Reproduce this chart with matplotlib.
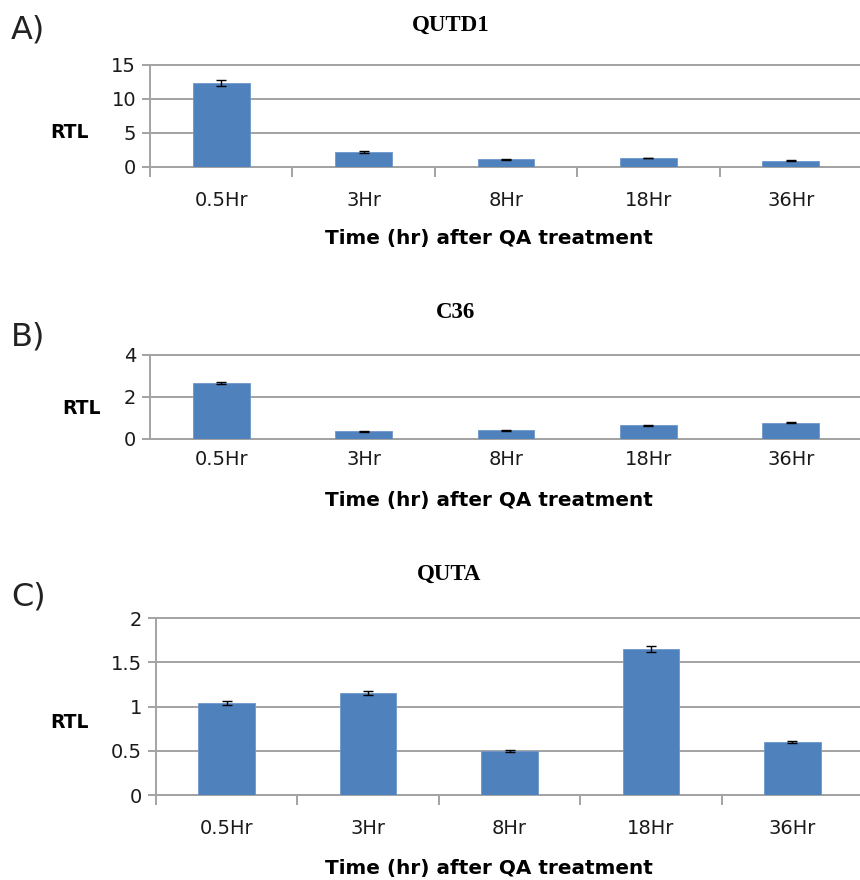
import matplotlib
matplotlib.use("Agg")
import matplotlib.pyplot as plt
from matplotlib.ticker import FuncFormatter

# Relative transcript levels after QA treatment
timepoints = ["0.5Hr", "3Hr", "8Hr", "18Hr", "36Hr"]

qutd1_vals = [12.35, 2.2, 1.13, 1.32, 0.93]
qutd1_err = [0.45, 0.08, 0.07, 0.07, 0.07]

c36_vals = [2.65, 0.36, 0.42, 0.66, 0.77]
c36_err = [0.05, 0.03, 0.03, 0.03, 0.03]

quta_vals = [1.04, 1.155, 0.497, 1.65, 0.597]
quta_err = [0.02, 0.02, 0.01, 0.03, 0.01]

yticks_a = [0, 5, 10, 15]
yticks_b = [0, 2, 4]
yticks_c = [0, 0.5, 1, 1.5, 2]

BAR = "#4F81BD"
GRID = "#a3a3a3"
W, H = 860, 880

fig = plt.figure(figsize=(W / 100, H / 100), dpi=100)


def px_axes(left, top, right, bottom):
    return fig.add_axes([left / W, 1 - bottom / H, (right - left) / W, (bottom - top) / H])


def draw_panel(ax, vals, errs, yticks, xticks_on, xlabel_pad):
    x = list(range(len(timepoints)))
    ax.bar(x, vals, width=0.4, color=BAR, edgecolor="#6f96cc", linewidth=0.6, zorder=3)
    ax.errorbar(x, vals, yerr=errs, fmt="none", ecolor="black", elinewidth=1.0,
                capsize=3.5, capthick=1.0, zorder=4)
    ax.set_xlim(-0.5, len(timepoints) - 0.5)
    ax.set_ylim(yticks[0], yticks[-1])
    ax.set_yticks(yticks)
    ax.yaxis.set_major_formatter(FuncFormatter(lambda v, p: f"{v:g}"))
    ax.set_xticks(x)
    ax.set_xticklabels(timepoints)
    ax.grid(axis="y", color=GRID, linewidth=1.4, zorder=0)
    for gl in ax.get_ygridlines():
        gl.set_clip_on(False)
    ax.set_axisbelow(True)
    for s in ["top", "right"]:
        ax.spines[s].set_visible(False)
    for s in ["left", "bottom"]:
        ax.spines[s].set_color(GRID)
        ax.spines[s].set_linewidth(1.4)
    ax.tick_params(axis="y", length=6, width=1.4, color=GRID, pad=4,
                   labelsize=14, labelcolor="#1a1a1a")
    ax.tick_params(axis="x", length=0, pad=xlabel_pad, labelsize=14, labelcolor="#1a1a1a")
    if xticks_on:
        # category boundary ticks below the axis
        ax.set_xticks([i - 0.5 for i in range(len(timepoints) + 1)], minor=True)
        ax.tick_params(axis="x", which="minor", length=7, width=1.4, color=GRID,
                       direction="out")


axA = px_axes(150, 65, 862, 167)
draw_panel(axA, qutd1_vals, qutd1_err, yticks_a, True, 17)

axB = px_axes(150, 355, 862, 439)
draw_panel(axB, c36_vals, c36_err, yticks_b, False, 8)

axC = px_axes(156, 618, 863, 795)
draw_panel(axC, quta_vals, quta_err, yticks_c, True, 17)

serif = dict(family=["Liberation Serif", "DejaVu Serif"], fontweight="bold", fontsize=16.5)
fig.text(451 / W, 1 - 25 / H, "QUTD1", ha="center", va="center", **serif)
fig.text(456 / W, 1 - 312 / H, "C36", ha="center", va="center", **serif)
fig.text(449 / W, 1 - 574 / H, "QUTA", ha="center", va="center", **serif)

for lbl, y in [("A)", 30), ("B)", 337), ("C)", 597)]:
    fig.text(11 / W, 1 - y / H, lbl, ha="left", va="center", fontsize=23, color="#222222")

for x, y in [(70, 133), (81, 408), (70, 722)]:
    fig.text(x / W, 1 - y / H, "RTL", ha="center", va="center", fontsize=13.5,
             fontweight="bold")

for y in [238, 500, 868]:
    fig.text(489 / W, 1 - y / H, "Time (hr) after QA treatment", ha="center",
             va="center", fontsize=14.4, fontweight="bold")

fig.savefig("out.png", dpi=100, facecolor="white")
